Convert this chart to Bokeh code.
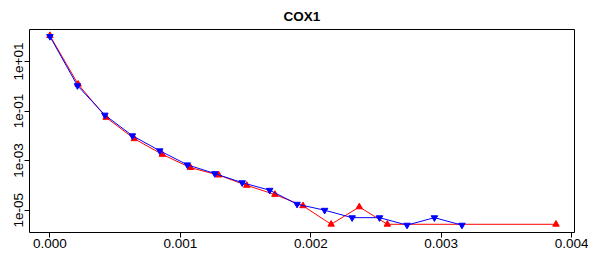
from bokeh.plotting import figure
from bokeh.models import FixedTicker, Range1d
from bokeh.embed import file_html
from bokeh.resources import INLINE

# ---- data ----
title_text = "COX1"

red_x = [0.0, 0.000216, 0.000431, 0.000647, 0.000862, 0.001078, 0.001294,
         0.001509, 0.001725, 0.00194, 0.002156, 0.002372, 0.002587, 0.00388]
red_y = [110, 1.2, 0.055, 0.0076, 0.00177, 5.2e-4, 2.6e-4,
         1.0e-4, 4.3e-5, 1.5e-5, 2.7e-6, 1.35e-5, 2.7e-6, 2.7e-6]

blue_x = [0.0, 0.000211, 0.000421, 0.000632, 0.000842, 0.001053, 0.001264,
          0.001474, 0.001685, 0.001895, 0.002106, 0.002317, 0.002527,
          0.002738, 0.002948, 0.003159]
blue_y = [102, 1.06, 0.069, 0.0101, 0.0025, 6.8e-4, 3.0e-4,
          1.29e-4, 6.4e-5, 1.75e-5, 1.0e-5, 5.0e-6, 5.0e-6,
          2.5e-6, 5.0e-6, 2.5e-6]

x_ticks = [0.0, 0.001, 0.002, 0.003, 0.004]
x_tick_labels = ["0.000", "0.001", "0.002", "0.003", "0.004"]
y_ticks = [1e-05, 1e-03, 1e-01, 1e+01]
y_tick_labels = ["1e-05", "1e-03", "1e-01", "1e+01"]

FONT = "Liberation Sans"

p = figure(width=588, height=254, y_axis_type="log",
           x_range=Range1d(-0.0001567, 0.004022),
           y_range=Range1d(1.26e-6, 194),
           output_backend="svg", toolbar_location=None,
           min_border_left=29, min_border_right=14,
           min_border_top=29, min_border_bottom=22)

p.title.text = title_text
p.title.align = "center"
p.title.text_font = FONT
p.title.text_font_size = "13.5px"
p.title.text_font_style = "bold"
p.title.text_color = "black"
p.title.standoff = 12

p.grid.visible = False
p.outline_line_color = "black"
p.outline_line_width = 1
p.outline_line_alpha = 1.0
p.background_fill_color = "white"
p.border_fill_color = "white"

p.xaxis.ticker = FixedTicker(ticks=x_ticks)
p.xaxis.major_label_overrides = dict(zip(x_ticks, x_tick_labels))
p.yaxis.ticker = FixedTicker(ticks=y_ticks)
p.yaxis.major_label_overrides = dict(zip(y_ticks, y_tick_labels))
p.yaxis.major_label_orientation = "vertical"

for ax in (p.xaxis[0], p.yaxis[0]):
    ax.axis_line_color = None
    ax.minor_tick_line_color = None
    ax.major_tick_line_color = "black"
    ax.major_tick_in = 0
    ax.major_tick_out = 5
    ax.major_label_standoff = 1
    ax.major_label_text_font = FONT
    ax.major_label_text_font_size = "13.5px"
    ax.major_label_text_color = "black"

p.line(red_x, red_y, line_color="red", line_width=1)
p.scatter(red_x, red_y, marker="triangle", size=6.5,
          fill_color="red", line_color="red")
p.line(blue_x, blue_y, line_color="blue", line_width=1)
p.scatter(blue_x, blue_y, marker="inverted_triangle", size=6.5,
          fill_color="blue", line_color="blue")

open("out.html", "w").write(file_html(p, INLINE))
